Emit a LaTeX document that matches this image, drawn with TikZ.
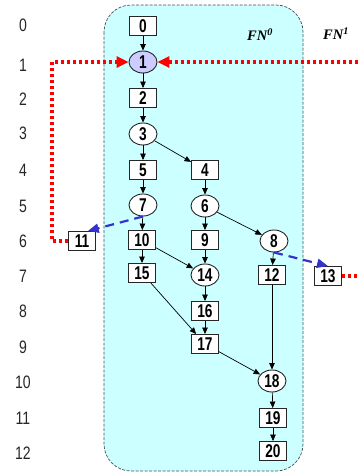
\documentclass[tikz,border=0pt]{standalone}
\usepackage{fontspec}
\usetikzlibrary{arrows.meta,shapes.geometric}
\newfontfamily\lblfont[FakeStretch=0.74]{Liberation Sans}
\newfontfamily\rowfont[FakeStretch=0.78]{Liberation Sans}
\newfontfamily\fnfont{Liberation Serif}
\definecolor{fncyan}{RGB}{204,255,255}
\definecolor{hilite}{RGB}{204,204,255}
\definecolor{linkblue}{RGB}{51,51,204}
\definecolor{framegray}{RGB}{70,80,80}

\begin{document}
\begin{tikzpicture}[x=1pt,y=-1pt,
  task/.style={draw=black!85, fill=white, line width=0.9pt, minimum width=27pt,
    minimum height=19pt, inner sep=0pt, font=\lblfont\bfseries\fontsize{18.5}{19}\selectfont},
  cond/.style={task, ellipse, minimum width=28pt, minimum height=22pt},
  rowlbl/.style={font=\rowfont\fontsize{18}{19}\selectfont, text=black!85},
  fnlbl/.style={font=\fnfont\bfseries\itshape\fontsize{14.5}{15}\selectfont},
  flow/.style={-{Triangle[length=6.5pt,width=5.5pt]}, line width=0.7pt},
  remote/.style={red, line width=3.2pt, dash pattern=on 3pt off 3pt},
  remotetip/.style={-{Triangle[length=12pt,width=11pt]}},
  spawn/.style={linkblue, line width=2.2pt, dash pattern=on 9pt off 6pt,
    -{Triangle[length=11pt,width=9pt]}}]
\useasboundingbox (0,0) rectangle (358,472);

% functional node 0 region
\draw[framegray, dash pattern=on 3pt off 1.5pt, line width=0.7pt, fill=fncyan,
  rounded corners=27pt] (104,5) rectangle (303,471);
\node[fnlbl] (fn0) at (260,35) {FN\textsuperscript{0}};
\node[fnlbl] (fn1) at (336,34) {FN\textsuperscript{1}};

% row numbers
\foreach \r/\yy in {0/25,1/65,2/99,3/133,4/170,5/206,6/241,7/276,8/311,9/347,10/382,11/418,12/453}
  \node[rowlbl] (row\r) at (23,\yy) {\r};

% tasks
\node[task] (n0) at (143,26) {0};
\node[cond, fill=hilite] (n1) at (143,62) {1};
\node[task] (n2) at (143,98) {2};
\node[cond] (n3) at (143,134) {3};
\node[task] (n5) at (143,170) {5};
\node[cond] (n7) at (143,205) {7};
\node[task] (n10) at (142,240) {10};
\node[task] (n15) at (142,273) {15};
\node[task] (n11) at (82,241) {11};
\node[task] (n4) at (205,170) {4};
\node[cond] (n6) at (205,206) {6};
\node[task] (n9) at (205,240) {9};
\node[cond] (n14) at (205,275) {14};
\node[task] (n16) at (205,311) {16};
\node[task] (n17) at (205,344) {17};
\node[cond] (n8) at (274,241) {8};
\node[task] (n12) at (272,275) {12};
\node[cond] (n18) at (272,381) {18};
\node[task] (n19) at (273,418) {19};
\node[task] (n20) at (273,451) {20};
\node[task] (n13) at (328,276) {13};

% local precedence
\draw[flow] (n0) -- (n1);
\draw[flow] (n1) -- (n2);
\draw[flow] (n2) -- (n3);
\draw[flow] (n3) -- (n5);
\draw[flow] (n3) -- (n4);
\draw[flow] (n5) -- (n7);
\draw[flow] (n7) -- (n10);
\draw[flow] (n4) -- (n6);
\draw[flow] (n6) -- (n9);
\draw[flow] (n6) -- (n8);
\draw[flow] (n10) -- (n15);
\draw[flow] (n10) -- (n14);
\draw[flow] (n9) -- (n14);
\draw[flow] (n14) -- (n16);
\draw[flow] (n15) -- (n17);
\draw[flow] (n16) -- (n17);
\draw[flow] (n8) -- (n12);
\draw[flow] (n12) -- (n18);
\draw[flow] (n17) -- (n18);
\draw[flow] (n18) -- (n19);
\draw[flow] (n19) -- (n20);

% remote spawns
\draw[spawn] (n7.south) -- (n11.60);
\draw[spawn] (n8.south) -- (n13.north);

% remote returns
\coordinate (rin) at (358,62);
\coordinate (rout) at (358,276);
\coordinate (lcorner) at (52,62);
\draw[remote, remotetip] (rin) -- (n1.east);
\draw[remote, remotetip] (n11.west) -| (lcorner) -- (n1.west);
\draw[remote] (n13.east) -- (rout);
\end{tikzpicture}
\end{document}
